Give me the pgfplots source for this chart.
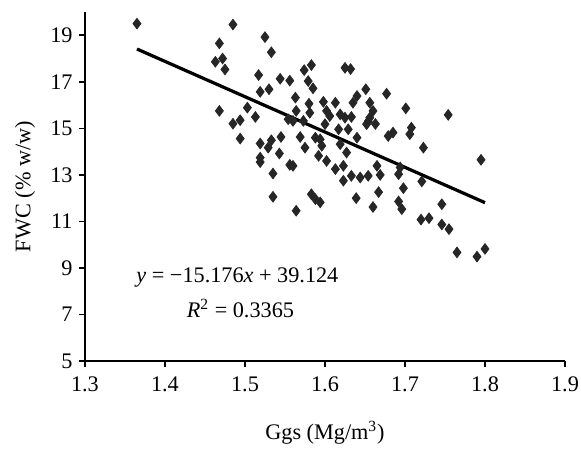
\documentclass[border=0pt]{standalone}
\usepackage{fontspec}
\setmainfont{Liberation Serif}
\usepackage{pgfplots}
\pgfplotsset{compat=1.18}
\definecolor{markcol}{RGB}{38,38,38}

\pgfplotstableread{
x y
1.365 19.50
1.485 19.46
1.468 18.65
1.525 18.92
1.533 18.27
1.463 17.86
1.472 18.00
1.475 17.53
1.517 17.29
1.544 17.13
1.556 17.05
1.519 16.57
1.530 16.68
1.468 15.75
1.503 15.89
1.485 15.20
1.494 15.35
1.513 15.49
1.554 15.39
1.494 14.56
1.519 14.35
1.533 14.49
1.545 14.63
1.529 14.17
1.543 13.92
1.519 13.74
1.519 13.55
1.556 13.43
1.535 13.06
1.535 12.06
1.574 17.50
1.583 17.72
1.625 17.60
1.632 17.55
1.579 17.03
1.585 16.72
1.563 16.32
1.651 16.68
1.640 16.39
1.564 15.75
1.580 16.06
1.581 15.67
1.598 16.14
1.613 16.10
1.635 16.10
1.602 15.75
1.606 15.53
1.619 15.60
1.625 15.46
1.633 15.49
1.560 15.32
1.573 15.32
1.600 15.18
1.652 15.18
1.617 14.96
1.629 14.96
1.640 14.60
1.569 14.63
1.588 14.60
1.594 14.53
1.575 14.17
1.596 14.25
1.619 14.32
1.627 13.96
1.592 13.82
1.602 13.60
1.613 13.25
1.560 13.39
1.623 13.39
1.623 12.75
1.633 12.96
1.644 12.89
1.654 12.96
1.583 12.17
1.594 11.82
1.588 11.96
1.639 12.00
1.564 11.46
1.660 11.62
1.677 16.49
1.656 16.10
1.701 15.86
1.660 15.75
1.656 15.46
1.663 15.19
1.654 15.30
1.754 15.58
1.679 14.67
1.685 14.82
1.708 15.03
1.706 14.75
1.723 14.17
1.665 13.39
1.669 13.00
1.692 13.03
1.694 13.32
1.721 12.72
1.698 12.43
1.667 12.26
1.746 11.74
1.692 11.86
1.696 11.53
1.720 11.08
1.730 11.14
1.746 10.87
1.755 10.67
1.795 13.65
1.765 9.67
1.790 9.49
1.800 9.82
}\fwcdata

\begin{document}
\begin{tikzpicture}[font=\fontsize{11.7}{13}\selectfont]
\useasboundingbox (-44.7pt,-46.8pt) rectangle (261pt,190pt);
\begin{axis}[
    scale only axis,
    width=252.6pt, height=183.7pt,
    xmin=1.3, xmax=1.9, ymin=5, ymax=20,
    xtick={1.3,1.4,1.5,1.6,1.7,1.8,1.9},
    ytick={5,7,9,11,13,15,17,19},
    axis lines=left,
    axis line style={-, line width=0.9pt},
    tick align=outside,
    major tick length=3pt,
    tick style={black, line width=0.9pt},
    xticklabel style={yshift=-1.5pt, /pgf/number format/fixed, /pgf/number format/fixed zerofill, /pgf/number format/precision=1},
    /pgf/number format/assume math mode=true,
    xlabel={Ggs (Mg/m\textsuperscript{3})},
    ylabel={FWC (\% w/w)},
    xlabel style={at={(axis description cs:0.5,-0.205)}, anchor=center},
    ylabel style={at={(axis description cs:-0.125,0.5)}, anchor=center},
    clip=false,
  ]
  \addplot[only marks, mark=diamond*, mark size=2.8pt, color=markcol] table[x=x, y=y] {\fwcdata};
  \addplot[black, line width=1.7pt, no marks] coordinates {(1.365,18.409) (1.8,11.807)};
  \node[anchor=west] at (axis cs:1.356,8.6) {\textit{y} = −15.176\textit{x} + 39.124};
  \node[anchor=west] at (axis cs:1.419,7.26) {\textit{R}\textsuperscript{2} = 0.3365};
\end{axis}
\end{tikzpicture}
\end{document}
